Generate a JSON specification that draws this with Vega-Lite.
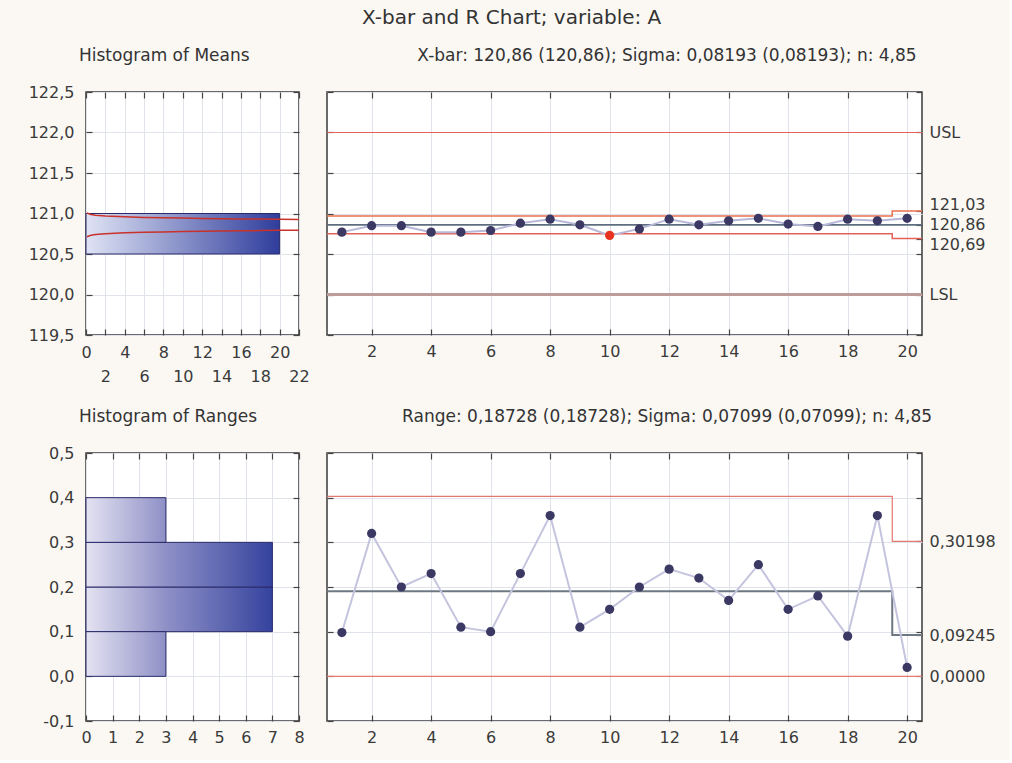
{
  "$schema": "https://vega.github.io/schema/vega-lite/v6.json",
  "background": "#fbf8f3",
  "padding": {"left": 27, "top": 8, "right": 14, "bottom": 14},
  "title": {"text": "X-bar and R Chart; variable:  A", "fontSize": 20, "anchor": "middle", "offset": 18},
  "columns": 2,
  "spacing": {"row": 118, "column": 28},
  "bounds": "flush",
  "datasets": {
    "samples": [
      {"sample": 1, "mean": 120.77, "range": 0.098, "status": "in"},
      {"sample": 2, "mean": 120.85, "range": 0.32, "status": "in"},
      {"sample": 3, "mean": 120.85, "range": 0.20, "status": "in"},
      {"sample": 4, "mean": 120.77, "range": 0.23, "status": "in"},
      {"sample": 5, "mean": 120.77, "range": 0.11, "status": "in"},
      {"sample": 6, "mean": 120.79, "range": 0.10, "status": "in"},
      {"sample": 7, "mean": 120.88, "range": 0.23, "status": "in"},
      {"sample": 8, "mean": 120.93, "range": 0.36, "status": "in"},
      {"sample": 9, "mean": 120.86, "range": 0.11, "status": "in"},
      {"sample": 10, "mean": 120.73, "range": 0.15, "status": "out"},
      {"sample": 11, "mean": 120.81, "range": 0.20, "status": "in"},
      {"sample": 12, "mean": 120.93, "range": 0.24, "status": "in"},
      {"sample": 13, "mean": 120.86, "range": 0.22, "status": "in"},
      {"sample": 14, "mean": 120.91, "range": 0.17, "status": "in"},
      {"sample": 15, "mean": 120.94, "range": 0.25, "status": "in"},
      {"sample": 16, "mean": 120.87, "range": 0.15, "status": "in"},
      {"sample": 17, "mean": 120.84, "range": 0.18, "status": "in"},
      {"sample": 18, "mean": 120.93, "range": 0.09, "status": "in"},
      {"sample": 19, "mean": 120.91, "range": 0.36, "status": "in"},
      {"sample": 20, "mean": 120.94, "range": 0.02, "status": "in"}
    ],
    "xlimits": [
      {"line": "USL", "x": 0.5, "y": 122.0},
      {"line": "USL", "x": 20.5, "y": 122.0},
      {"line": "LSL", "x": 0.5, "y": 120.0},
      {"line": "LSL", "x": 20.5, "y": 120.0},
      {"line": "CL", "x": 0.5, "y": 120.86},
      {"line": "CL", "x": 20.5, "y": 120.86},
      {"line": "UCL", "x": 0.5, "y": 120.97},
      {"line": "UCL", "x": 19.5, "y": 121.03},
      {"line": "UCL", "x": 20.5, "y": 121.03},
      {"line": "LCL", "x": 0.5, "y": 120.75},
      {"line": "LCL", "x": 19.5, "y": 120.69},
      {"line": "LCL", "x": 20.5, "y": 120.69}
    ],
    "rlimits": [
      {"line": "UCL", "x": 0.5, "y": 0.403},
      {"line": "UCL", "x": 19.5, "y": 0.30198},
      {"line": "UCL", "x": 20.5, "y": 0.30198},
      {"line": "CL", "x": 0.5, "y": 0.1906},
      {"line": "CL", "x": 19.5, "y": 0.09245},
      {"line": "CL", "x": 20.5, "y": 0.09245},
      {"line": "LCL", "x": 0.5, "y": 0.0},
      {"line": "LCL", "x": 20.5, "y": 0.0}
    ],
    "meansHist": [{"lo": 120.5, "hi": 121.0, "count": 20}],
    "meansCurve": [
      {"branch": "upper", "c": 0.1, "v": 121.007},
      {"branch": "upper", "c": 0.5, "v": 120.988},
      {"branch": "upper", "c": 1, "v": 120.979},
      {"branch": "upper", "c": 2, "v": 120.970},
      {"branch": "upper", "c": 4, "v": 120.959},
      {"branch": "upper", "c": 6, "v": 120.952},
      {"branch": "upper", "c": 8, "v": 120.947},
      {"branch": "upper", "c": 10, "v": 120.943},
      {"branch": "upper", "c": 12, "v": 120.939},
      {"branch": "upper", "c": 14, "v": 120.936},
      {"branch": "upper", "c": 16, "v": 120.933},
      {"branch": "upper", "c": 18, "v": 120.931},
      {"branch": "upper", "c": 20, "v": 120.928},
      {"branch": "upper", "c": 22, "v": 120.926},
      {"branch": "lower", "c": 0.1, "v": 120.713},
      {"branch": "lower", "c": 0.5, "v": 120.732},
      {"branch": "lower", "c": 1, "v": 120.741},
      {"branch": "lower", "c": 2, "v": 120.750},
      {"branch": "lower", "c": 4, "v": 120.761},
      {"branch": "lower", "c": 6, "v": 120.768},
      {"branch": "lower", "c": 8, "v": 120.773},
      {"branch": "lower", "c": 10, "v": 120.777},
      {"branch": "lower", "c": 12, "v": 120.781},
      {"branch": "lower", "c": 14, "v": 120.784},
      {"branch": "lower", "c": 16, "v": 120.787},
      {"branch": "lower", "c": 18, "v": 120.789},
      {"branch": "lower", "c": 20, "v": 120.792},
      {"branch": "lower", "c": 22, "v": 120.794}
    ],
    "rangesHist": [
      {"lo": 0.0, "hi": 0.1, "count": 3},
      {"lo": 0.1, "hi": 0.2, "count": 7},
      {"lo": 0.2, "hi": 0.3, "count": 7},
      {"lo": 0.3, "hi": 0.4, "count": 3}
    ]
  },
  "concat": [
    {
      "width": 213,
      "height": 243,
      "title": {"text": "Histogram of Means", "anchor": "start", "frame": "group", "dx": -7, "offset": 19},
      "layer": [
        {
          "data": {"name": "meansHist"},
          "mark": {"type": "bar", "color": {"gradient": "linear", "x1": 0, "y1": 0, "x2": 1, "y2": 0, "stops": [{"offset": 0, "color": "#dfe3f4"}, {"offset": 1, "color": "#2f3d9c"}]}, "stroke": "#2a2a6a", "strokeWidth": 1},
          "encoding": {
            "x": {"field": "count", "type": "quantitative", "scale": {"domain": [0, 22], "nice": false},
                  "axis": {"title": null, "values": [0, 2, 4, 6, 8, 10, 12, 14, 16, 18, 20, 22], "grid": true,
                           "labelPadding": {"condition": {"test": "datum.value % 4 == 2", "value": 39}, "value": 15}}},
            "x2": {"datum": 0},
            "y": {"field": "lo", "type": "quantitative", "scale": {"domain": [119.5, 122.5], "nice": false, "zero": false},
                  "axis": {"title": null, "values": [119.5, 120, 120.5, 121, 121.5, 122, 122.5], "grid": true, "labelPadding": 18, "labelExpr": "replace(format(datum.value, '.1f'), '.', ',')"}},
            "y2": {"field": "hi"}
          }
        },
        {
          "data": {"name": "meansCurve"},
          "mark": {"type": "line", "color": "#c8322a", "strokeWidth": 1.5},
          "encoding": {
            "x": {"field": "c", "type": "quantitative", "scale": {"domain": [0, 22], "nice": false},
                  "axis": {"orient": "top", "labels": false, "title": null, "values": [0, 2, 4, 6, 8, 10, 12, 14, 16, 18, 20, 22]}},
            "y": {"field": "v", "type": "quantitative", "scale": {"domain": [119.5, 122.5], "nice": false, "zero": false},
                  "axis": {"orient": "right", "labels": false, "title": null, "values": [119.5, 120, 120.5, 121, 121.5, 122, 122.5]}},
            "detail": {"field": "branch"}
          }
        }
      ],
      "resolve": {"axis": {"x": "independent", "y": "independent"}}
    },
    {
      "width": 595,
      "height": 243,
      "title": {"text": "X-bar: 120,86 (120,86); Sigma: 0,08193 (0,08193); n: 4,85", "anchor": "middle", "frame": "bounds", "dx": 14, "offset": 19},
      "layer": [
        {
          "data": {"name": "xlimits"},
          "transform": [{"filter": "datum.line == 'USL'"}],
          "mark": {"type": "line", "color": "#e2625a", "strokeWidth": 1.2, "interpolate": "step-after"},
          "encoding": {
            "x": {"field": "x", "type": "quantitative", "scale": {"domain": [0.5, 20.5], "nice": false},
                  "axis": {"title": null, "values": [2, 4, 6, 8, 10, 12, 14, 16, 18, 20], "grid": true, "labelPadding": 14}},
            "y": {"field": "y", "type": "quantitative", "scale": {"domain": [119.5, 122.5], "nice": false, "zero": false},
                  "axis": {"title": null, "labels": false, "values": [119.5, 120, 120.5, 121, 121.5, 122, 122.5]}}
          }
        },
        {
          "data": {"name": "xlimits"},
          "transform": [{"filter": "datum.line == 'LSL'"}],
          "mark": {"type": "line", "color": "#bd9c9c", "strokeWidth": 3, "interpolate": "step-after"},
          "encoding": {
            "x": {"field": "x", "type": "quantitative", "axis": null},
            "y": {"field": "y", "type": "quantitative", "axis": null}
          }
        },
        {
          "data": {"name": "xlimits"},
          "transform": [{"filter": "datum.line == 'UCL'"}],
          "mark": {"type": "line", "color": "#ea7050", "strokeWidth": 1.5, "interpolate": "step-after"},
          "encoding": {
            "x": {"field": "x", "type": "quantitative", "axis": null},
            "y": {"field": "y", "type": "quantitative", "axis": null}
          }
        },
        {
          "data": {"name": "xlimits"},
          "transform": [{"filter": "datum.line == 'LCL'"}],
          "mark": {"type": "line", "color": "#e2625a", "strokeWidth": 1.5, "interpolate": "step-after"},
          "encoding": {
            "x": {"field": "x", "type": "quantitative", "axis": null},
            "y": {"field": "y", "type": "quantitative", "axis": null}
          }
        },
        {
          "data": {"name": "xlimits"},
          "transform": [{"filter": "datum.line == 'CL'"}],
          "mark": {"type": "line", "color": "#5e6e80", "strokeWidth": 1.8, "interpolate": "step-after"},
          "encoding": {
            "x": {"field": "x", "type": "quantitative",
                  "axis": {"orient": "top", "labels": false, "title": null, "values": [2, 4, 6, 8, 10, 12, 14, 16, 18, 20]}},
            "y": {"field": "y", "type": "quantitative",
                  "axis": {"orient": "right", "title": null, "labelPadding": 13, "values": [119.5, 120, 120.5, 120.69, 120.86, 121.03, 121.5, 122, 122.5],
                           "labelExpr": "datum.value == 122 ? 'USL' : datum.value == 120 ? 'LSL' : (datum.value == 120.69 || datum.value == 120.86 || datum.value == 121.03) ? replace(format(datum.value, '.2f'), '.', ',') : ''",
                           "labelOffset": {"condition": [{"test": "datum.value == 121.03", "value": -7}, {"test": "datum.value == 120.69", "value": 6}], "value": 0}}}
          }
        },
        {
          "data": {"name": "samples"},
          "mark": {"type": "line", "color": "#b8b8d8", "strokeWidth": 2},
          "encoding": {
            "x": {"field": "sample", "type": "quantitative", "axis": null},
            "y": {"field": "mean", "type": "quantitative", "axis": null}
          }
        },
        {
          "data": {"name": "samples"},
          "transform": [{"filter": "datum.status == 'in'"}],
          "mark": {"type": "point", "filled": true, "color": "#3b3963", "size": 85, "opacity": 1},
          "encoding": {
            "x": {"field": "sample", "type": "quantitative", "axis": null},
            "y": {"field": "mean", "type": "quantitative", "axis": null}
          }
        },
        {
          "data": {"name": "samples"},
          "transform": [{"filter": "datum.status == 'out'"}],
          "mark": {"type": "point", "filled": true, "color": "#e8331f", "size": 85, "opacity": 1},
          "encoding": {
            "x": {"field": "sample", "type": "quantitative", "axis": null},
            "y": {"field": "mean", "type": "quantitative", "axis": null}
          }
        }
      ],
      "resolve": {"axis": {"x": "independent", "y": "independent"}}
    },
    {
      "width": 213,
      "height": 268,
      "title": {"text": "Histogram of Ranges", "anchor": "start", "frame": "group", "dx": -7, "offset": 19},
      "layer": [
        {
          "data": {"name": "rangesHist"},
          "transform": [{"filter": "datum.count > 5"}],
          "mark": {"type": "bar", "color": {"gradient": "linear", "x1": 0, "y1": 0, "x2": 1, "y2": 0, "stops": [{"offset": 0, "color": "#e4e2f2"}, {"offset": 0.43, "color": "#8e90c6"}, {"offset": 1, "color": "#35439e"}]}, "stroke": "#2a2a6a", "strokeWidth": 1},
          "encoding": {
            "x": {"field": "count", "type": "quantitative", "scale": {"domain": [0, 8], "nice": false},
                  "axis": {"title": null, "values": [0, 1, 2, 3, 4, 5, 6, 7, 8], "grid": true, "labelPadding": 14}},
            "x2": {"datum": 0},
            "y": {"field": "lo", "type": "quantitative", "scale": {"domain": [-0.1, 0.5], "nice": false, "zero": false},
                  "axis": {"title": null, "values": [-0.1, 0, 0.1, 0.2, 0.3, 0.4, 0.5], "grid": true, "labelPadding": 18, "labelExpr": "replace(replace(format(datum.value, '.1f'), '.', ','), '\u2212', '-')"}},
            "y2": {"field": "hi"}
          }
        },
        {
          "data": {"name": "rangesHist"},
          "transform": [{"filter": "datum.count < 5"}],
          "mark": {"type": "bar", "color": {"gradient": "linear", "x1": 0, "y1": 0, "x2": 1, "y2": 0, "stops": [{"offset": 0, "color": "#e4e2f2"}, {"offset": 1, "color": "#8e90c6"}]}, "stroke": "#2a2a6a", "strokeWidth": 1},
          "encoding": {
            "x": {"field": "count", "type": "quantitative", "scale": {"domain": [0, 8], "nice": false},
                  "axis": {"orient": "top", "labels": false, "title": null, "values": [0, 1, 2, 3, 4, 5, 6, 7, 8]}},
            "x2": {"datum": 0},
            "y": {"field": "lo", "type": "quantitative", "scale": {"domain": [-0.1, 0.5], "nice": false, "zero": false},
                  "axis": {"orient": "right", "labels": false, "title": null, "values": [-0.1, 0, 0.1, 0.2, 0.3, 0.4, 0.5]}},
            "y2": {"field": "hi"}
          }
        }
      ],
      "resolve": {"axis": {"x": "independent", "y": "independent"}}
    },
    {
      "width": 595,
      "height": 268,
      "title": {"text": "Range: 0,18728 (0,18728); Sigma: 0,07099 (0,07099); n: 4,85", "anchor": "middle", "frame": "bounds", "dx": 8, "offset": 19},
      "layer": [
        {
          "data": {"name": "rlimits"},
          "transform": [{"filter": "datum.line == 'UCL'"}],
          "mark": {"type": "line", "color": "#e27870", "strokeWidth": 1.2, "interpolate": "step-after"},
          "encoding": {
            "x": {"field": "x", "type": "quantitative", "scale": {"domain": [0.5, 20.5], "nice": false},
                  "axis": {"title": null, "values": [2, 4, 6, 8, 10, 12, 14, 16, 18, 20], "grid": true, "labelPadding": 14}},
            "y": {"field": "y", "type": "quantitative", "scale": {"domain": [-0.1, 0.5], "nice": false, "zero": false},
                  "axis": {"title": null, "labels": false, "values": [-0.1, 0, 0.1, 0.2, 0.3, 0.4, 0.5]}}
          }
        },
        {
          "data": {"name": "rlimits"},
          "transform": [{"filter": "datum.line == 'CL'"}],
          "mark": {"type": "line", "color": "#6e7882", "strokeWidth": 2, "interpolate": "step-after"},
          "encoding": {
            "x": {"field": "x", "type": "quantitative", "axis": null},
            "y": {"field": "y", "type": "quantitative", "axis": null}
          }
        },
        {
          "data": {"name": "rlimits"},
          "transform": [{"filter": "datum.line == 'LCL'"}],
          "mark": {"type": "line", "color": "#e27870", "strokeWidth": 1.2, "interpolate": "step-after"},
          "encoding": {
            "x": {"field": "x", "type": "quantitative",
                  "axis": {"orient": "top", "labels": false, "title": null, "values": [2, 4, 6, 8, 10, 12, 14, 16, 18, 20]}},
            "y": {"field": "y", "type": "quantitative",
                  "axis": {"orient": "right", "title": null, "labelPadding": 13, "values": [-0.1, 0, 0.09245, 0.1, 0.2, 0.30198, 0.4, 0.5],
                           "labelExpr": "datum.value == 0.30198 ? '0,30198' : datum.value == 0.09245 ? '0,09245' : datum.value == 0 ? '0,0000' : ''"}}
          }
        },
        {
          "data": {"name": "samples"},
          "mark": {"type": "line", "color": "#c4c4de", "strokeWidth": 2},
          "encoding": {
            "x": {"field": "sample", "type": "quantitative", "axis": null},
            "y": {"field": "range", "type": "quantitative", "axis": null}
          }
        },
        {
          "data": {"name": "samples"},
          "mark": {"type": "point", "filled": true, "color": "#3b3963", "size": 85, "opacity": 1},
          "encoding": {
            "x": {"field": "sample", "type": "quantitative", "axis": null},
            "y": {"field": "range", "type": "quantitative", "axis": null}
          }
        }
      ],
      "resolve": {"axis": {"x": "independent", "y": "independent"}}
    }
  ],
  "config": {
    "view": {"stroke": "#3a3a3a", "strokeWidth": 1.5, "fill": "#ffffff"},
    "axis": {"labelFont": "DejaVu Sans", "labelFontSize": 16, "labelColor": "#3a3a3a", "domain": false, "tickColor": "#444444", "tickSize": -6, "tickWidth": 1.2, "labelPadding": 10, "gridColor": "#e0e4ea", "gridWidth": 1, "labelOverlap": false, "labelBound": false, "labelFlush": false},
    "title": {"font": "DejaVu Sans", "fontSize": 17, "fontWeight": "normal", "color": "#333333"}
  }
}
